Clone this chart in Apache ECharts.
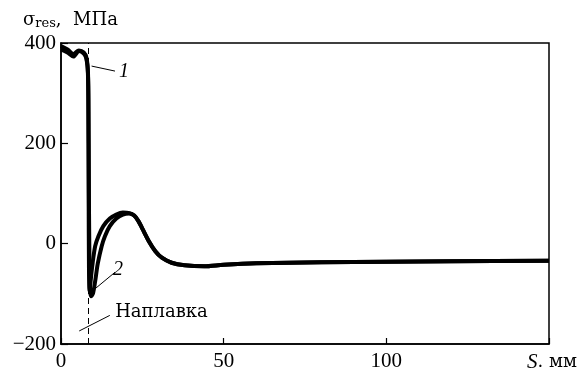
<!DOCTYPE html>
<html>
  <head>
    <meta charset="utf-8" />
    <title>sigma res</title>
    <style>
      body {
        margin: 0;
        padding: 0;
        background: #fff;
      }
      #chart {
        width: 586px;
        height: 372px;
      }
    </style>
  </head>
  <body>
    <div id="chart"></div>
    <script src="https://cdn.jsdelivr.net/npm/echarts@6/dist/echarts.min.js"></script>
    <script type="text/javascript">
      // S, мм
      var xTicks = [0, 50, 100, 150];
      var yTicks = [-200, 0, 200, 400];

      // кривая 1
      var curve1X = [0, 2, 3.8, 5.5, 7, 7.8, 8.2, 8.4, 8.5, 8.6, 8.8, 9.1, 9.6, 10.5, 11.5, 13, 15, 17, 19, 21, 22.5, 23.8, 25, 27, 29, 31, 34, 38, 44, 50, 60, 80, 100, 120, 150];
      var curve1Y = [394, 387, 378, 385, 381, 371, 350, 300, 100, -50, -95, -75, -45, -5, 15, 35, 50, 58, 62, 61, 56, 45, 30, 5, -15, -28, -38, -43, -45, -42, -39, -37, -36, -35, -34];

      // кривая 2
      var curve2X = [0, 2, 3.8, 5.5, 7, 7.8, 8.3, 8.5, 8.8, 9.2, 9.8, 10.5, 11.3, 12.5, 13.5, 15, 17, 19, 21, 22.5, 23.8, 25, 27, 29, 31, 34, 38, 44, 50, 60, 80, 100, 120, 150];
      var curve2Y = [387, 381, 373, 384, 379, 369, 340, 200, -80, -105, -100, -75, -40, -5, 15, 35, 50, 58, 60, 56, 45, 30, 5, -15, -28, -38, -43, -45, -42, -39, -37, -36, -35, -34];

      // наплавка
      var weldX = 8.4;

      // выноски: [x1, y1, x2, y2, текст]
      var leaders = [
        [9.4, 354, 16.6, 344, '1'],
        [9.9, -93, 16.6, -57, '2'],
        [5.6, -174, 15, -143, 'Наплавка']
      ];

      function pairs(xs, ys) {
        return xs.map(function (x, i) {
          return [x, ys[i]];
        });
      }

      var serif = 'DejaVu Serif';
      var times = 'Liberation Serif';
      var chart = echarts.init(document.getElementById('chart'));

      var leaderData = leaders.map(function (l) {
        var italic = l[4] !== 'Наплавка';
        return [
          { coord: [l[0], l[1]] },
          {
            coord: [l[2], l[3]],
            label: {
              formatter: l[4],
              fontFamily: italic ? times : serif,
              fontStyle: italic ? 'italic' : 'normal',
              fontSize: italic ? 20 : 18,
              distance: italic ? 4 : 6
            }
          }
        ];
      });

      var option = {
        backgroundColor: '#fff',
        animation: false,
        grid: {
          left: 61,
          right: 37,
          top: 43,
          bottom: 26,
          show: true,
          borderColor: '#000',
          borderWidth: 1.5
        },
        xAxis: {
          type: 'value',
          min: xTicks[0],
          max: xTicks[xTicks.length - 1],
          interval: 50,
          axisLine: { onZero: false, lineStyle: { color: '#000', width: 1.5 } },
          axisTick: { inside: true, length: 6, lineStyle: { color: '#000', width: 1.2 } },
          axisLabel: {
            color: '#000',
            fontFamily: times,
            fontSize: 21,
            margin: 7,
            formatter: function (v) {
              return v === 150 ? '' : v;
            }
          },
          splitLine: { show: false }
        },
        yAxis: {
          type: 'value',
          min: yTicks[0],
          max: yTicks[yTicks.length - 1],
          interval: 200,
          axisLine: { onZero: false, lineStyle: { color: '#000', width: 1.5 } },
          axisTick: { inside: true, length: 7, lineStyle: { color: '#000', width: 1.2 } },
          axisLabel: {
            color: '#000',
            fontFamily: times,
            fontSize: 21,
            margin: 5,
            formatter: function (v) {
              return String(v).replace('-', '\u2212');
            }
          },
          splitLine: { show: false }
        },
        graphic: [
          {
            type: 'text',
            left: 23,
            top: 11,
            style: {
              text: '{s|σ}{sub|res}{s|,  МПа}',
              rich: {
                s: { fontFamily: serif, fontSize: 18, fill: '#000' },
                sub: { fontFamily: serif, fontSize: 13, fill: '#000', padding: [8, 0, 0, 0] }
              }
            }
          },
          {
            type: 'text',
            left: 527,
            top: 352,
            style: {
              text: '{i|S}{n|. мм}',
              rich: {
                i: { fontFamily: times, fontSize: 21, fontStyle: 'italic', fill: '#000' },
                n: { fontFamily: serif, fontSize: 18, fill: '#000' }
              }
            }
          }
        ],
        series: [
          {
            name: '1',
            type: 'line',
            data: pairs(curve1X, curve1Y),
            showSymbol: false,
            smooth: 0.3,
            lineStyle: { color: '#000', width: 4 },
            markLine: {
              silent: true,
              symbol: 'none',
              lineStyle: { color: '#000', width: 1, type: [6, 4] },
              label: { show: false },
              data: [{ xAxis: weldX }]
            }
          },
          {
            name: '2',
            type: 'line',
            data: pairs(curve2X, curve2Y),
            showSymbol: false,
            smooth: 0.3,
            lineStyle: { color: '#000', width: 4 },
            markLine: {
              silent: true,
              symbol: 'none',
              lineStyle: { color: '#000', width: 1, type: 'solid' },
              label: {
                show: true,
                position: 'end',
                color: '#000'
              },
              data: leaderData
            }
          }
        ]
      };

      chart.setOption(option);
    </script>
  </body>
</html>
